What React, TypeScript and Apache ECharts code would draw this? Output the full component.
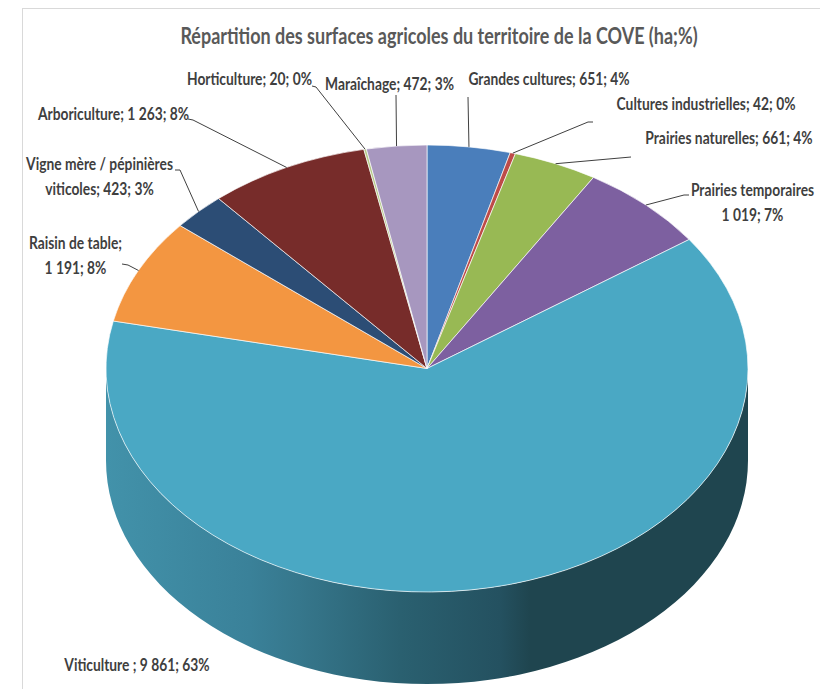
import React, { useEffect, useRef } from "react";
import * as echarts from "echarts";

const titleText = "Répartition des surfaces agricoles du territoire de la COVE (ha;%)";
const categories = [
  "Grandes cultures", "Cultures industrielles", "Prairies naturelles", "Prairies temporaires",
  "Viticulture", "Raisin de table", "Vigne mère / pépinières viticoles", "Arboriculture",
  "Horticulture", "Maraîchage",
];
const hectares = [651, 42, 661, 1019, 9861, 1191, 423, 1263, 20, 472];
const labelLines = [
  ["Grandes cultures; 651; 4%"],
  ["Cultures industrielles; 42; 0%"],
  ["Prairies naturelles; 661; 4%"],
  ["Prairies temporaires", "1 019; 7%"],
  ["Viticulture ; 9 861; 63%"],
  ["Raisin de table;", "1 191; 8%"],
  ["Vigne mère / pépinières", "viticoles; 423; 3%"],
  ["Arboriculture; 1 263; 8%"],
  ["Horticulture; 20; 0%"],
  ["Maraîchage; 472; 3%"],
];
const sliceColors = ["#4a7ebb", "#be4b48", "#98b954", "#7d60a0", "#4aa8c4", "#f39641", "#2c4d75", "#772c2a", "#b5ca88", "#a797bf"];

// Layout: centre x and middle y of the first label line
const labelCentres = [
  [549, 78], [706, 103], [729, 137], [752.5, 189], [137, 664], [75.5, 242], [99.5, 163], [113.5, 113], [249.5, 78], [389.5, 83],
];
// Layout: elbow of each leader line, from the label side; the pie end is computed from the slice
const leaderElbows: number[][][] = [
  [[468, 97]],
  [[593, 122], [588, 122]],
  [[631, 157]],
  [[689, 195], [684, 195]],
  [],
  [[122, 264], [128, 265]],
  [[175, 170], [180, 170]],
  [[188, 119], [193, 120]],
  [[312, 86], [316, 87]],
  [[396, 95]],
];

const CX = 427, CY = 368.5, RX = 321, RY = 223.5, DEPTH = 92;
const FONT_FAMILY = 'Lato, "Open Sans", sans-serif';
const LABEL_SCALE = 0.79;
const TITLE_SCALE = 0.8;
const total = hectares.reduce((a, b) => a + b, 0);
const point = (frac: number) => {
  const t = frac * 2 * Math.PI;
  return [CX + RX * Math.sin(t), CY - RY * Math.cos(t)];
};

const renderItem = (params: any, api: any) => {
  const i = params.dataIndex;
  const before = hectares.slice(0, i).reduce((a, b) => a + b, 0);
  const value = api.value(0);
  const f0 = before / total;
  const f1 = (before + value) / total;
  const [x0, y0] = point(f0);
  const [x1, y1] = point(f1);
  const large = f1 - f0 > 0.5 ? 1 : 0;
  const children: any[] = [];
  if (i === 0) {
    children.push({
      type: "path",
      shape: {
        pathData: `M${CX - RX} ${CY}A${RX} ${RY} 0 0 0 ${CX + RX} ${CY}L${CX + RX} ${CY + DEPTH}A${RX} ${RY} 0 0 1 ${CX - RX} ${CY + DEPTH}Z`,
      },
      style: {
        fill: new echarts.graphic.LinearGradient(0, 0, 1, 0, [
          { offset: 0, color: "#4292aa" },
          { offset: 0.224, color: "#3a8199" },
          { offset: 0.3, color: "#36778c" },
          { offset: 0.458, color: "#2a6070" },
          { offset: 0.614, color: "#245160" },
          { offset: 0.66, color: "#1f454f" },
          { offset: 1, color: "#1f454f" },
        ]),
      },
      z2: 0,
    });
  }
  children.push({
    type: "path",
    shape: { pathData: `M${CX} ${CY}L${x0} ${y0}A${RX} ${RY} 0 ${large} 1 ${x1} ${y1}Z` },
    style: { fill: sliceColors[i], stroke: "rgba(255,255,255,0.65)", lineWidth: 1 },
    z2: 1,
  });
  const elbow = leaderElbows[i];
  if (elbow.length) {
    const anchor = point((f0 + f1) / 2);
    children.push({
      type: "polyline",
      shape: { points: [...elbow, anchor] },
      style: { stroke: "#404040", lineWidth: 1, fill: "none" },
      z2: 2,
    });
  }
  const [lx, ly] = labelCentres[i];
  labelLines[i].forEach((line, k) => {
    children.push({
      type: "text",
      x: lx,
      y: ly + k * 25,
      scaleX: LABEL_SCALE,
      style: {
        text: line,
        fill: "#3f3f3f",
        font: `bold 17.5px ${FONT_FAMILY}`,
        align: "center",
        verticalAlign: "middle",
      },
      z2: 3,
    });
  });
  return { type: "group", children };
};

export default function App() {
  const ref = useRef<HTMLDivElement>(null);
  useEffect(() => {
    const chart = echarts.init(ref.current!, null, { renderer: "svg" });
    chart.setOption({
      animation: false,
      backgroundColor: "#ffffff",
      graphic: [
        { type: "line", shape: { x1: 22, y1: 8.5, x2: 820, y2: 8.5 }, style: { stroke: "#d9d9d9", lineWidth: 1 } },
        { type: "line", shape: { x1: 22.5, y1: 8, x2: 22.5, y2: 689 }, style: { stroke: "#d9d9d9", lineWidth: 1 } },
        {
          type: "text",
          x: 439,
          y: 35,
          scaleX: TITLE_SCALE,
          style: {
            text: titleText,
            font: `bold 22.5px ${FONT_FAMILY}`,
            fill: "#595959",
            align: "center",
            verticalAlign: "middle",
          },
        },
      ],
      series: [
        {
          type: "custom",
          coordinateSystem: "none",
          renderItem,
          data: hectares.map((v, i) => ({ name: categories[i], value: v })),
        },
      ],
    });
    return () => chart.dispose();
  }, []);
  return <div ref={ref} style={{ position: "absolute", left: 0, top: 0, width: 820, height: 689 }} />;
}
